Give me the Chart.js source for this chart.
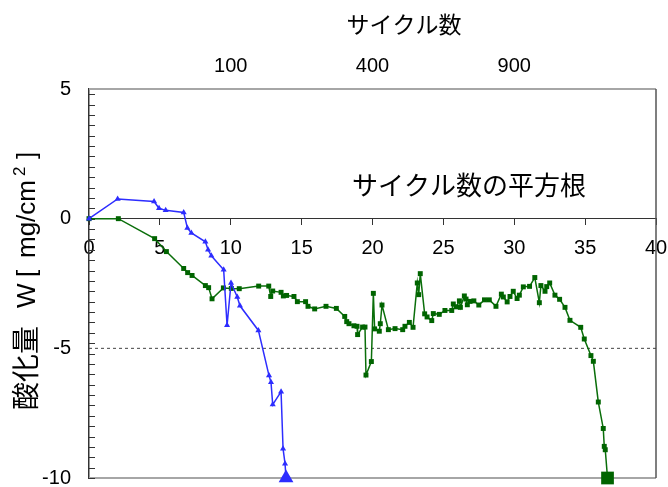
<!DOCTYPE html>
<html><head><meta charset="utf-8">
<script src="https://cdn.jsdelivr.net/npm/chart.js@4"></script>
<style>html,body{margin:0;padding:0;background:#fff}canvas{display:block}</style>
</head><body>
<canvas id="c" width="668" height="487"></canvas>
<script>
// Blue series (triangles): x = sqrt(cycles), y = mass change
const blueX = [0, 2.02, 4.59, 4.94, 5.41, 6.68, 6.94, 7.22, 8.21, 8.40, 8.63, 9.50, 9.74, 10.02, 10.46, 10.65, 11.95, 12.70, 12.84, 12.96, 13.55, 13.69, 13.83, 13.90];
const blueY = [0, 0.76, 0.66, 0.40, 0.32, 0.24, -0.36, -0.55, -0.89, -1.20, -1.43, -1.97, -4.11, -2.48, -3.02, -3.36, -4.31, -6.05, -6.31, -7.17, -6.67, -8.87, -9.45, -10];
// Green series (squares)
const greenX = [0, 2.07, 4.63, 5.46, 6.68, 6.96, 7.27, 8.21, 8.44, 8.68, 9.48, 10.04, 10.60, 11.97, 12.68, 12.82, 12.96, 13.55, 13.71, 13.94, 14.46, 14.70, 15.28, 15.45, 15.92, 16.72, 17.45, 18.04, 18.18, 18.34, 18.69, 18.91, 18.95, 19.30, 19.47, 19.54, 19.92, 20.06, 20.15, 20.48, 20.55, 20.67, 21.12, 21.59, 22.13, 22.29, 22.60, 22.86, 23.16, 23.26, 23.37, 23.68, 23.85, 24.18, 24.29, 24.71, 25.11, 25.59, 25.70, 25.90, 26.13, 26.20, 26.48, 26.60, 26.69, 26.88, 27.15, 27.50, 27.90, 28.24, 28.71, 29.09, 29.23, 29.50, 29.70, 29.93, 30.20, 30.36, 30.64, 31.08, 31.45, 31.77, 31.88, 32.17, 32.29, 32.50, 32.87, 33.20, 33.58, 33.93, 34.69, 34.94, 35.41, 35.58, 35.93, 36.28, 36.35, 36.42, 36.58];
const greenY = [0, 0, -0.77, -1.27, -1.92, -2.08, -2.19, -2.58, -2.66, -3.09, -2.67, -2.69, -2.70, -2.60, -2.60, -3.00, -2.79, -2.84, -2.98, -2.96, -3.00, -3.20, -3.20, -3.38, -3.48, -3.38, -3.46, -3.77, -3.97, -4.05, -4.13, -4.15, -4.47, -4.18, -4.18, -6.03, -5.51, -2.88, -4.25, -4.34, -4.05, -3.33, -4.28, -4.24, -4.28, -4.15, -4.00, -4.19, -2.48, -2.93, -2.12, -3.67, -3.79, -3.93, -3.66, -3.69, -3.54, -3.54, -3.29, -3.40, -3.17, -3.42, -2.98, -3.10, -3.32, -3.19, -3.17, -3.33, -3.13, -3.13, -3.38, -2.91, -3.02, -3.21, -3.00, -2.80, -3.08, -2.95, -2.63, -2.61, -2.27, -3.24, -2.58, -2.80, -2.62, -2.48, -2.95, -3.11, -3.42, -3.92, -4.19, -4.64, -5.28, -5.50, -7.07, -8.09, -8.78, -8.91, -10];
// Reference level (dashed)
const refLevel = -5;
// Axis ticks
const bottomTicks = [0, 5, 10, 15, 20, 25, 30, 35, 40];
const topTickCycles = [100, 400, 900];
const leftTickLabels = [-10, -5, 0, 5];
const minorStep = 0.4;
// Texts
const topTitle = 'サイクル数';
const innerTitle = 'サイクル数の平方根';
const yTitleJa = '酸化量';
const yTitleUnit = ['W', '[', 'mg/cm', '2', ']'];

const pts = (xs, ys) => xs.map((x, i) => ({x: x, y: ys[i]}));
const FONT = "'Liberation Sans', 'Noto Sans CJK JP', sans-serif";
const CJK = "'Noto Sans CJK JP', 'Liberation Sans', sans-serif";

const framePlugin = {
  id: 'frame',
  beforeDatasetsDraw(chart) {
    const {ctx, chartArea: a} = chart;
    const ys = chart.scales.y;
    ctx.save();
    ctx.strokeStyle = '#a6a6a6';
    ctx.lineWidth = 2;
    ctx.beginPath();
    ctx.moveTo(a.left, a.top); ctx.lineTo(a.right, a.top);
    ctx.moveTo(a.left, a.bottom); ctx.lineTo(a.right, a.bottom);
    ctx.stroke();
    ctx.strokeStyle = '#555';
    ctx.lineWidth = 1.5;
    ctx.beginPath();
    ctx.moveTo(a.right, a.top); ctx.lineTo(a.right, a.bottom);
    ctx.stroke();
    ctx.strokeStyle = '#333';
    ctx.lineWidth = 1;
    ctx.beginPath();
    for (let k = Math.ceil(ys.min / minorStep); k * minorStep < ys.max - 1e-9; k++) {
      const py = Math.round(ys.getPixelForValue(k * minorStep)) + 0.5;
      ctx.moveTo(a.left, py); ctx.lineTo(a.left + 6, py);
    }
    ctx.stroke();
    ctx.fillStyle = '#000';
    ctx.font = "26px " + CJK;
    ctx.textAlign = 'center';
    ctx.textBaseline = 'middle';
    ctx.fillText(innerTitle, chart.scales.x.getPixelForValue(26.8), ys.getPixelForValue(1.3));
    // top title
    ctx.font = "23px " + CJK;
    ctx.fillText(topTitle, 404, 24);
    // rotated y title
    ctx.translate(0, 410);
    ctx.rotate(-Math.PI / 2);
    ctx.textAlign = 'left';
    ctx.textBaseline = 'middle';
    ctx.font = "28px " + CJK;
    ctx.fillText(yTitleJa, 0, 25);
    ctx.textBaseline = 'alphabetic';
    ctx.font = "26px " + FONT;
    ctx.fillText(yTitleUnit[0], 102, 35);
    ctx.fillText(yTitleUnit[1], 133, 35);
    ctx.fillText(yTitleUnit[2], 152, 35);
    ctx.font = "17px " + FONT;
    ctx.fillText(yTitleUnit[3], 234, 25);
    ctx.font = "26px " + FONT;
    ctx.fillText(yTitleUnit[4], 251, 35);
    ctx.restore();
  }
};

new Chart(document.getElementById('c'), {
  type: 'scatter',
  data: {
    datasets: [
      {
        data: pts(blueX, blueY), showLine: true, borderColor: 'rgb(45,45,255)', backgroundColor: 'rgb(45,45,255)',
        borderWidth: 1.5, pointStyle: 'triangle', clip: false,
        pointRadius: ctx => ctx.dataIndex === blueX.length - 1 ? 8.5 : 3.5, pointBorderWidth: 0, tension: 0
      },
      {
        data: pts(greenX, greenY), showLine: true, borderColor: 'rgb(10,110,10)', backgroundColor: 'rgb(0,100,0)',
        borderWidth: 1.5, pointStyle: 'rect', clip: false,
        pointRadius: ctx => ctx.dataIndex === greenX.length - 1 ? 9 : 3.5, pointBorderWidth: 0, tension: 0
      },
      {
        data: [{x: 0, y: refLevel}, {x: 40, y: refLevel}], showLine: true, borderColor: '#444', borderWidth: 1,
        borderDash: [3, 3], pointRadius: 0
      }
    ]
  },
  options: {
    responsive: false, animation: false, devicePixelRatio: 1,
    layout: {padding: {left: 0, right: 12, top: 0, bottom: 9}},
    plugins: {legend: {display: false}, tooltip: {enabled: false}},
    scales: {
      x: {
        type: 'linear', min: 0, max: 40, position: {y: 0},
        afterBuildTicks: s => { s.ticks = bottomTicks.map(v => ({value: v})); },
        afterFit: s => { s.paddingLeft = 0; s.paddingRight = 0; },
        ticks: {font: {family: FONT, size: 20}, color: '#000', padding: 12, maxRotation: 0, autoSkip: false},
        grid: {drawOnChartArea: false, drawTicks: true, tickLength: 6, color: '#333', lineWidth: 1},
        border: {display: true, color: '#333', width: 1}
      },
      x2: {
        type: 'linear', min: 0, max: 40, position: 'top',
        afterBuildTicks: s => { s.ticks = topTickCycles.map(c => ({value: Math.sqrt(c)})); },
        afterFit: s => { s.height = 89; s.paddingLeft = 0; s.paddingRight = 0; },
        ticks: {font: {family: FONT, size: 20}, color: '#000', padding: 11, maxRotation: 0, autoSkip: false,
                callback: v => String(Math.round(v * v))},
        grid: {display: false, drawTicks: false},
        border: {display: false}
      },
      y: {
        type: 'linear', min: -10, max: 5, position: 'left',
        afterBuildTicks: s => { s.ticks = leftTickLabels.map(v => ({value: v})); },
        afterFit: s => { s.width = 89; s.paddingTop = 0; s.paddingBottom = 0; },
        ticks: {font: {family: FONT, size: 20}, color: '#000', padding: 18, callback: v => String(v)},
        grid: {display: false, drawTicks: false},
        border: {display: true, color: '#333', width: 1.5}
      }
    }
  },
  plugins: [framePlugin]
});
</script>
</body></html>
